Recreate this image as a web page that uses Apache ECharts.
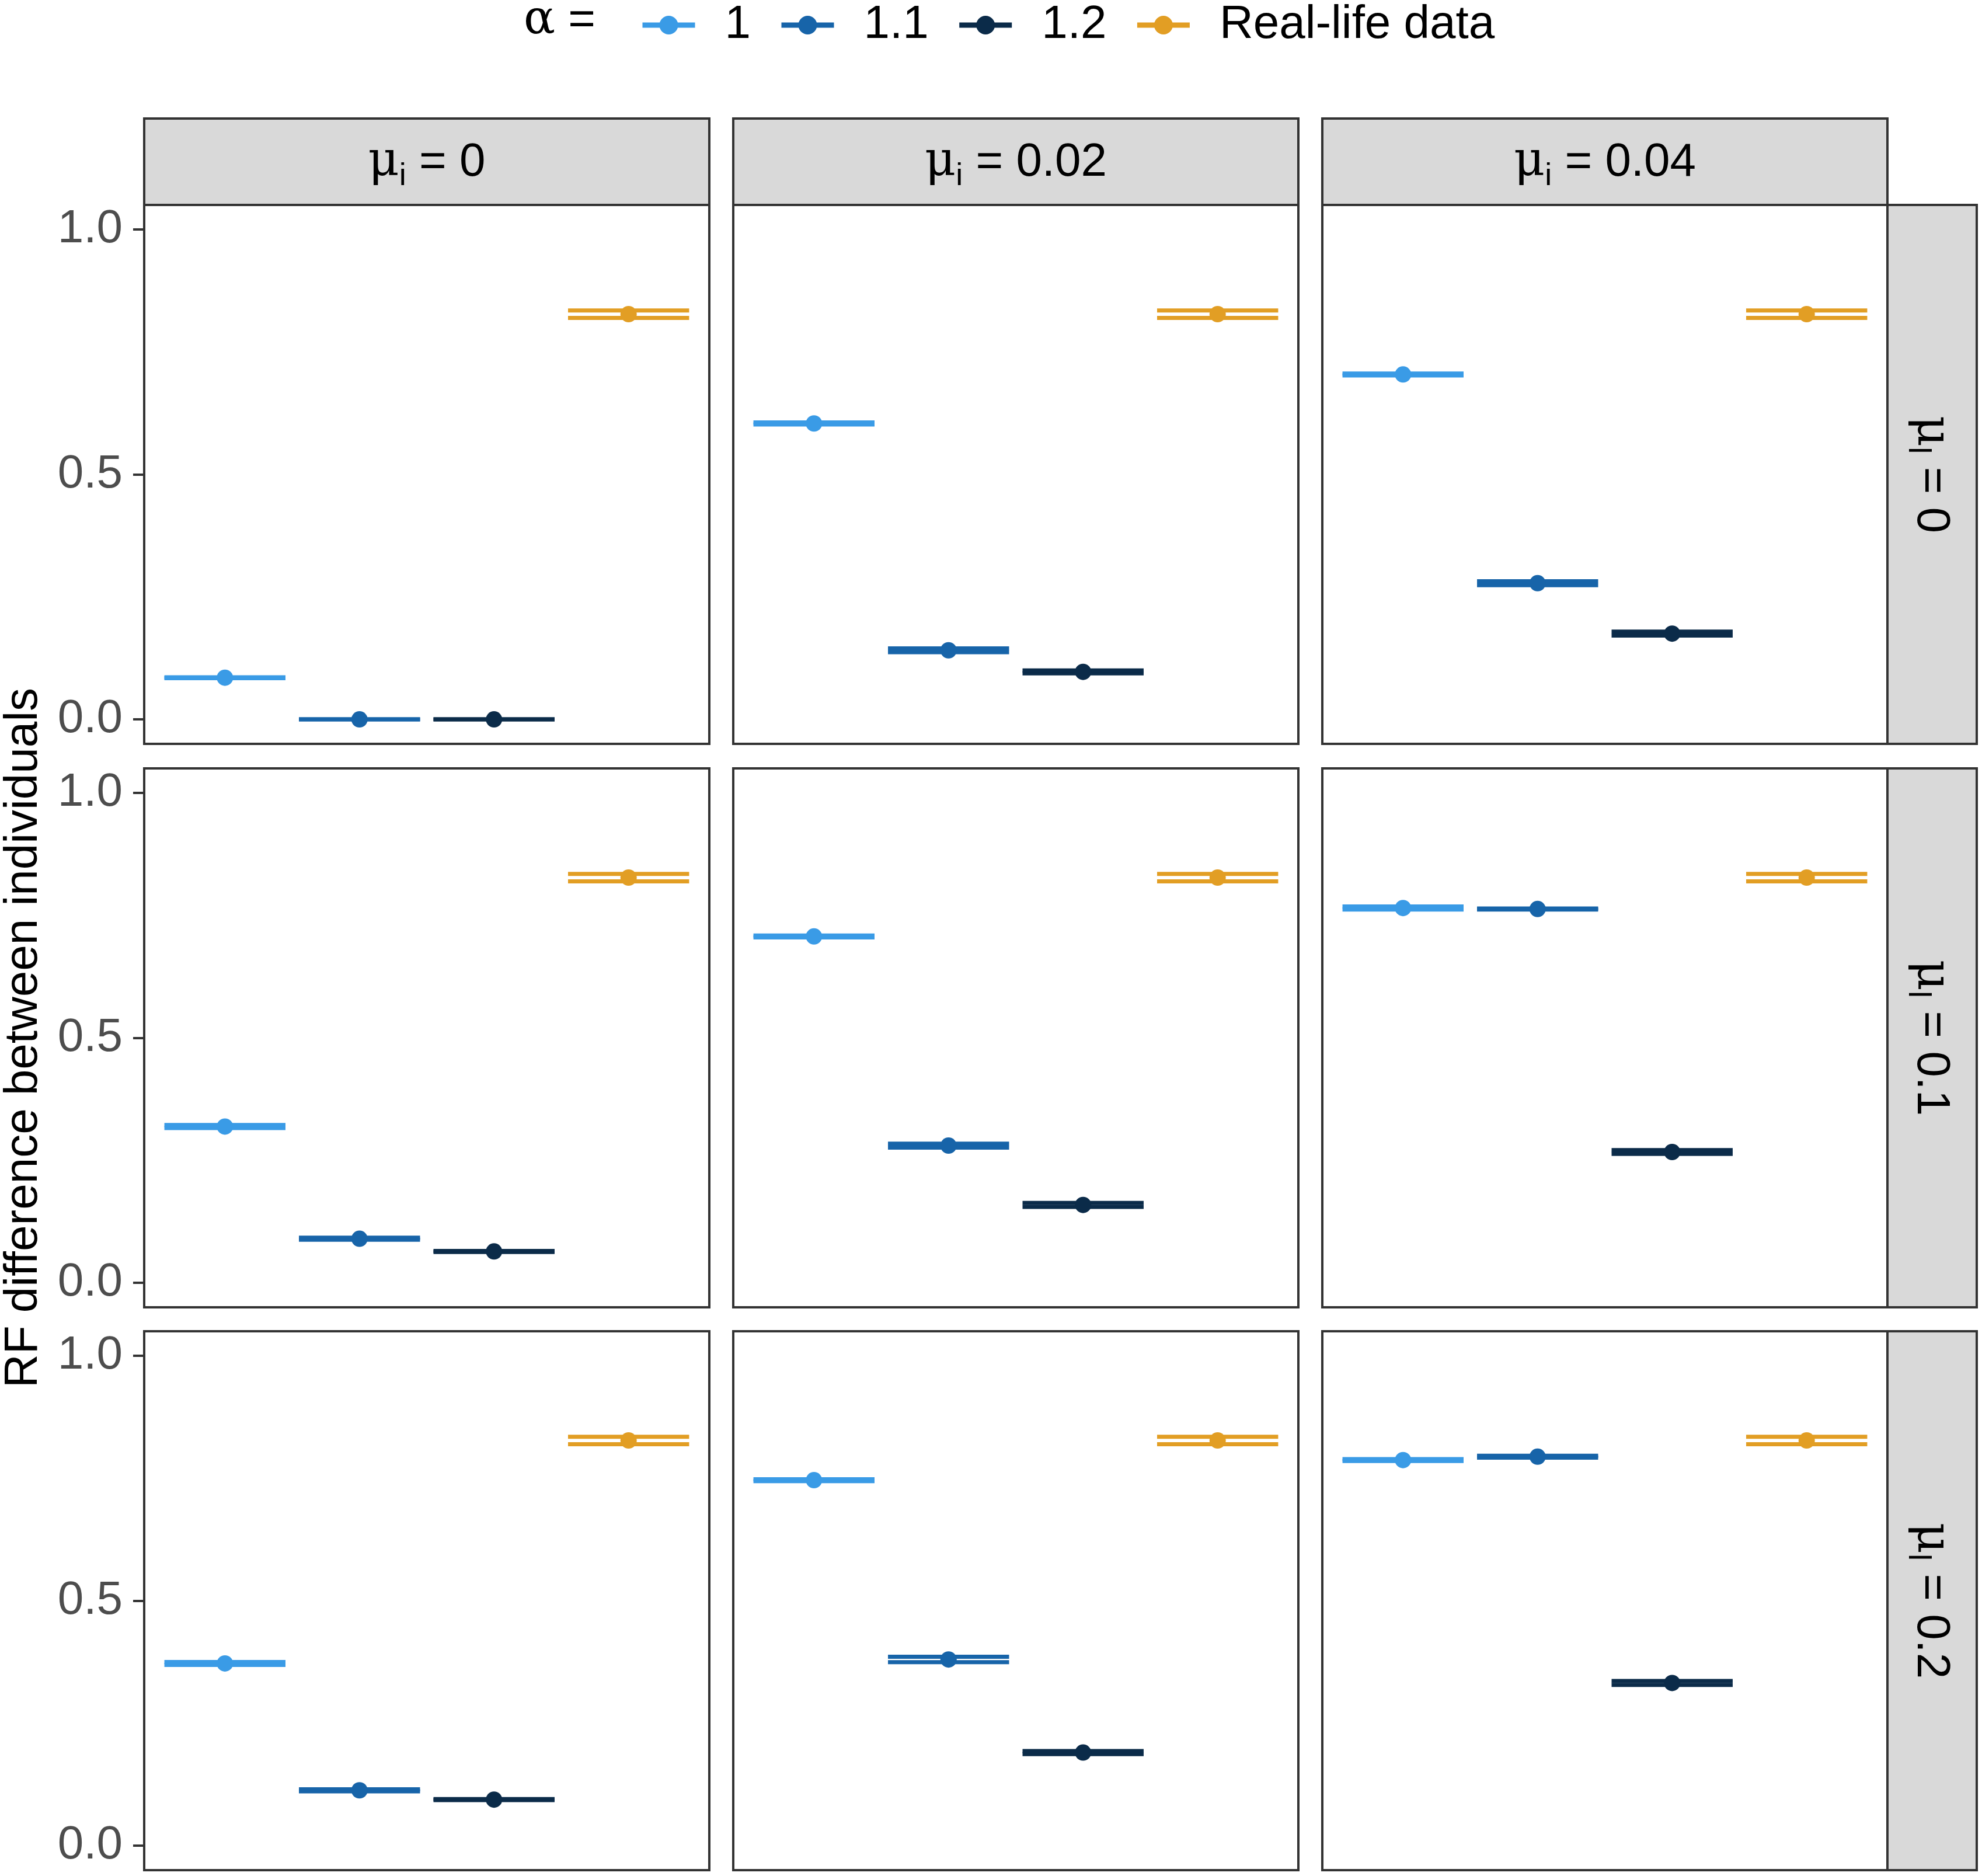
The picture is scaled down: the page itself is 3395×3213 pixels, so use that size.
<!DOCTYPE html>
<html>
<head>
<meta charset="utf-8">
<script src="https://cdn.jsdelivr.net/npm/echarts@6.0.0/dist/echarts.min.js"></script>
<style>
  html, body { margin: 0; padding: 0; background: #fff; }
  #chart { width: 3395px; height: 3213px; }
</style>
</head>
<body>
<div id="chart"></div>
<script>
/* data */
var alphaLevels = ['1', '1.1', '1.2', 'Real-life data'];
var muI = ['0', '0.02', '0.04'];   // columns
var muL = ['0', '0.1', '0.2'];     // rows
var yTicks = [0, 0.5, 1.0];

// mean RF difference, [row mu_l][col mu_i]
var mean_a1  = [[0.085, 0.604, 0.704], [0.319, 0.707, 0.765], [0.372, 0.746, 0.787]];
var mean_a11 = [[0.000, 0.141, 0.278], [0.090, 0.280, 0.763], [0.113, 0.380, 0.794]];
var mean_a12 = [[0.000, 0.097, 0.175], [0.064, 0.159, 0.267], [0.094, 0.190, 0.332]];
var mean_real = [[0.827, 0.827, 0.827], [0.827, 0.827, 0.827], [0.827, 0.827, 0.827]];

// half width of the interval
var half_a1  = [[0.001, 0.002, 0.002], [0.003, 0.002, 0.003], [0.003, 0.002, 0.002]];
var half_a11 = [[0.000, 0.004, 0.004], [0.002, 0.004, 0.001], [0.002, 0.0055, 0.002]];
var half_a12 = [[0.000, 0.003, 0.004], [0.001, 0.004, 0.004], [0.001, 0.003, 0.004]];
var half_real = [[0.0075, 0.0075, 0.0075], [0.0075, 0.0075, 0.0075], [0.0075, 0.0075, 0.0075]];

var means = [mean_a1, mean_a11, mean_a12, mean_real];
var halves = [half_a1, half_a11, half_a12, half_real];

/* style */
var colors = ['#3a9be6', '#1764a9', '#0b2b49', '#e29e24'];
var FONT = '"Liberation Sans", Arial, sans-serif';
var colLeft = [247, 1256, 2265];
var rowTop = [351, 1316, 2280];
var panelW = 968, panelH = 923;
var stripTop = 203, stripH = 148;
var rStripX = 3233, rStripW = 153;

var grids = [], xAxes = [], yAxes = [], series = [], graphics = [];

for (var r = 0; r < 3; r++) {
  for (var c = 0; c < 3; c++) {
    var gi = r * 3 + c;
    grids.push({
      left: colLeft[c], top: rowTop[r], width: panelW, height: panelH,
      show: true, backgroundColor: '#fff', borderColor: '#333333', borderWidth: 4
    });
    xAxes.push({
      gridIndex: gi, type: 'value', min: 0.4, max: 4.6, show: false
    });
    yAxes.push({
      gridIndex: gi, type: 'value', min: -0.05, max: 1.05,
      axisLine: { show: false },
      splitLine: { show: false },
      axisTick: { show: c === 0, customValues: yTicks, length: 19,
                  lineStyle: { color: '#333333', width: 4 } },
      axisLabel: { show: c === 0, customValues: yTicks, margin: 37,
                   color: '#4d4d4d', fontSize: 80, fontFamily: FONT,
                   formatter: function (v) { return v.toFixed(1); } }
    });
    for (var g = 0; g < 4; g++) {
      var m = means[g][r][c], h = halves[g][r][c];
      series.push({
        type: 'custom', name: alphaLevels[g] + ' CI',
        xAxisIndex: gi, yAxisIndex: gi, z: 2,
        encode: { x: 0, y: [1, 2] },
        data: [[g + 1, m - h, m + h]],
        renderItem: (function (col) {
          return function (params, api) {
            var x = api.value(0), lo = api.value(1), hi = api.value(2);
            var st = { stroke: col, lineWidth: 7, fill: null };
            function seg(p1, p2) {
              return { type: 'line', shape: { x1: p1[0], y1: p1[1], x2: p2[0], y2: p2[1] }, style: st };
            }
            return {
              type: 'group',
              children: [
                seg(api.coord([x - 0.45, lo]), api.coord([x + 0.45, lo])),
                seg(api.coord([x - 0.45, hi]), api.coord([x + 0.45, hi])),
                seg(api.coord([x, lo]), api.coord([x, hi]))
              ]
            };
          };
        })(colors[g])
      });
      series.push({
        type: 'line', name: alphaLevels[g],
        xAxisIndex: gi, yAxisIndex: gi, z: 3,
        data: [[g + 1, m]],
        symbol: 'circle', symbolSize: 28, showSymbol: true,
        itemStyle: { color: colors[g] },
        lineStyle: { color: colors[g], width: 7 }
      });
    }
  }
}

function stripRich(sub, val) {
  return {
    text: '{mu|μ}{sub|' + sub + '}{eq| = ' + val + '}',
    rich: {
      mu: { fontSize: 82, fontFamily: '"DejaVu Serif", serif', color: '#1a1a1a', lineHeight: 100, verticalAlign: 'middle' },
      sub: { fontSize: 54, fontFamily: FONT, color: '#1a1a1a', lineHeight: 54, verticalAlign: 'bottom' },
      eq: { fontSize: 80, fontFamily: FONT, color: '#1a1a1a', lineHeight: 100, verticalAlign: 'middle' }
    }
  };
}

// top strips (mu_i)
for (var c2 = 0; c2 < 3; c2++) {
  graphics.push({
    type: 'rect', shape: { x: colLeft[c2], y: stripTop, width: panelW, height: stripH },
    style: { fill: '#d9d9d9', stroke: '#333333', lineWidth: 4 }, z: 1
  });
  var st1 = stripRich('i', muI[c2]);
  graphics.push({
    type: 'text', x: colLeft[c2] + panelW / 2, y: stripTop + stripH / 2 + 2, z: 2,
    style: { text: st1.text, rich: st1.rich, align: 'center', verticalAlign: 'middle' }
  });
}
// right strips (mu_l)
for (var r2 = 0; r2 < 3; r2++) {
  graphics.push({
    type: 'rect', shape: { x: rStripX, y: rowTop[r2], width: rStripW, height: panelH },
    style: { fill: '#d9d9d9', stroke: '#333333', lineWidth: 4 }, z: 1
  });
  var st2 = stripRich('l', muL[r2]);
  graphics.push({
    type: 'text', x: rStripX + rStripW / 2 - 2, y: rowTop[r2] + panelH / 2, rotation: -Math.PI / 2, z: 2,
    style: { text: st2.text, rich: st2.rich, align: 'center', verticalAlign: 'middle' }
  });
}
// y axis title
graphics.push({
  type: 'text', x: 41, y: rowTop[1] + panelH / 2, rotation: Math.PI / 2,
  style: { text: 'RF difference between individuals', font: '80px ' + FONT, fill: '#000',
           align: 'center', verticalAlign: 'middle' }
});
// legend title
graphics.push({
  type: 'text', x: 897, y: 36,
  style: {
    text: '{a|α}{e| =}',
    rich: {
      a: { fontSize: 80, fontFamily: '"DejaVu Serif", serif', color: '#000' },
      e: { fontSize: 80, fontFamily: FONT, color: '#000' }
    },
    align: 'left', verticalAlign: 'middle'
  }
});

var chart = echarts.init(document.getElementById('chart'), null, { renderer: 'canvas' });
chart.setOption({
  animation: false,
  backgroundColor: '#ffffff',
  legend: {
    data: alphaLevels,
    left: 1091, top: -2,
    itemWidth: 90, itemHeight: 40, itemGap: 48,
    textStyle: { fontSize: 80, fontFamily: FONT, color: '#000', padding: [0, 0, 0, 46], lineHeight: 80 },
    lineStyle: { width: 9 }
  },
  grid: grids,
  xAxis: xAxes,
  yAxis: yAxes,
  series: series,
  graphic: graphics
});
</script>
</body>
</html>
